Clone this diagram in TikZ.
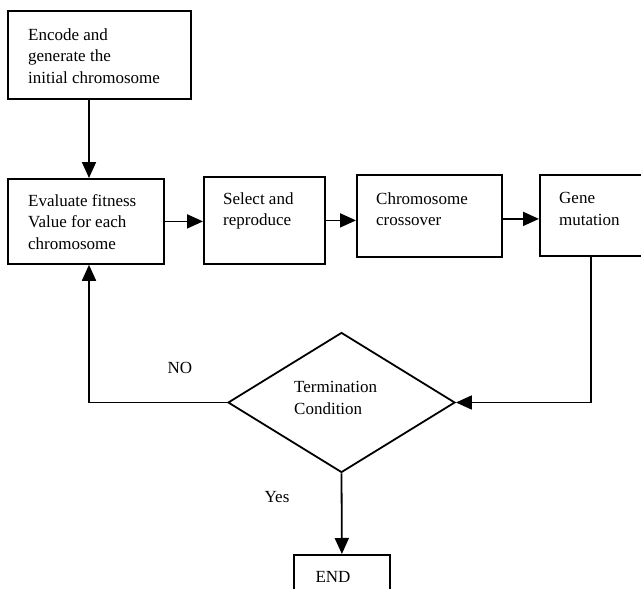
\documentclass[tikz,border=0pt]{standalone}
\usepackage{fontspec}
\setmainfont{Liberation Serif}
\usetikzlibrary{shapes.geometric,arrows.meta}
\begin{document}
\begin{tikzpicture}[x=1pt,y=-1pt,
  box/.style={draw,line width=1.8pt,rectangle,inner sep=0pt,anchor=north west},
  txt/.style={anchor=west,align=left,inner sep=0pt,font=\fontsize{17}{21.5}\selectfont},
  arr/.style={line width=1.8pt,-{Triangle[length=16pt,width=14pt]}},
  ln/.style={line width=1.8pt}]
\useasboundingbox[fill=white] (0,0) rectangle (641,589);
% boxes
\node[box,minimum width=183pt,minimum height=88pt] (enc) at (7,10) {};
\node[txt] (enct) at (28,56) {Encode and\\generate the\\initial chromosome};
\node[box,minimum width=156pt,minimum height=85pt] (ev) at (7,178) {};
\node[txt] (evt) at (28,222) {Evaluate fitness\\Value for each\\chromosome};
\node[box,minimum width=121pt,minimum height=87pt] (sel) at (203,176) {};
\node[txt] (selt) at (223,211) {Select and\\reproduce};
\node[box,minimum width=145pt,minimum height=82pt] (cx) at (356,174) {};
\node[txt] (cxt) at (376,209) {Chromosome\\crossover};
\node[box,minimum width=106pt,minimum height=81pt] (gene) at (539,174) {};
\node[txt] (genet) at (559,209) {Gene\\mutation};
\node[draw,line width=1.8pt,diamond,inner sep=0pt,minimum width=227pt,minimum height=140pt] (dia) at (341.5,402.5) {};
\node[txt] (diat) at (294,398) {Termination\\Condition};
\node[box,minimum width=96pt,minimum height=50pt] (end) at (293,554) {};
\node[txt,anchor=center] (endt) at (333,577) {END};
\node[txt,anchor=center] (no) at (180,368) {NO};
\node[txt,anchor=center] (yes) at (277,497) {Yes};
% connectors
\draw[arr] (enc.south -| 89,0) -- (ev.north -| 89,0);
\draw[arr] (ev.east) -- (ev.east -| sel.west);
\draw[arr] (sel.east) -- (sel.east -| cx.west);
\draw[arr] ([yshift=-3pt]cx.east) -- ([yshift=-3pt]cx.east -| gene.west);
\draw[arr] (gene.south -| 591,0) |- (dia.east);
\draw[arr] (dia.west) -| (ev.south -| 89,0);
\draw[arr] (dia.south) -- (end.north);
\end{tikzpicture}
\end{document}
